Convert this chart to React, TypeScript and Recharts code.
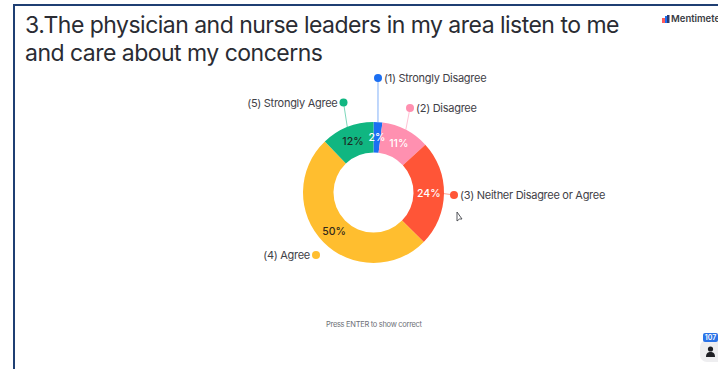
import { PieChart, Pie, Cell } from "recharts";

const categories = [
  "(1) Strongly Disagree",
  "(2) Disagree",
  "(3) Neither Disagree or Agree",
  "(4) Agree",
  "(5) Strongly Agree",
];
const shares = [2, 11, 24, 50, 12];
const colors = ["#1b6ff2", "#ff90b0", "#ff5537", "#ffbe2f", "#10b681"];
const valueColors = ["#ffffff", "#ffffff", "#ffffff", "#33291a", "#1c2a24"];

// callout dot position relative to the ring centre, and which side its text sits on
const calloutOffsets = [
  [4.5, -114.5],
  [36.5, -84.5],
  [80.5, 2.5],
  [-57.5, 62.5],
  [-30, -90],
];
const calloutSides = ["right", "right", "right", "left", "left"];
const hiddenLeader = [false, false, false, true, false];

const data = categories.map((name, i) => ({ name, value: shares[i] }));

const FONT = "Inter, 'Noto Sans', sans-serif";
const RAD = Math.PI / 180;

function SliceLabel(props: any) {
  const { cx, cy, midAngle, innerRadius, outerRadius, index } = props;
  const r = (innerRadius + outerRadius) / 2;
  const tx = cx + r * Math.cos(midAngle * RAD);
  const ty = cy - r * Math.sin(midAngle * RAD);
  const dx = cx + calloutOffsets[index][0];
  const dy = cy + calloutOffsets[index][1];
  const lx = cx + outerRadius * Math.cos(midAngle * RAD);
  const ly = cy - outerRadius * Math.sin(midAngle * RAD);
  const right = calloutSides[index] === "right";
  return (
    <g>
      {!hiddenLeader[index] && (
        <line x1={lx} y1={ly} x2={dx} y2={dy} stroke={colors[index]} strokeOpacity={0.55} strokeWidth={1} />
      )}
      <circle cx={dx} cy={dy} r={4} fill={colors[index]} />
      <text
        x={right ? dx + 6 : dx - 6}
        y={dy}
        textAnchor={right ? "start" : "end"}
        dominantBaseline="central"
        fontFamily={FONT}
        fontSize={11}
        letterSpacing={-0.28}
        fill="#3f4147"
      >
        {categories[index]}
      </text>
      <text
        x={tx}
        y={ty}
        textAnchor="middle"
        dominantBaseline="central"
        fontFamily={FONT}
        fontSize={10.5}
        fontWeight={500}
        fill={valueColors[index]}
      >
        {shares[index]}%
      </text>
    </g>
  );
}

export default function App() {
  return (
    <div style={{ position: "fixed", left: 0, top: 0, width: 718, height: 369, background: "#fff", overflow: "hidden" }}>
      {/* slide frame */}
      <div style={{ position: "absolute", left: 13, top: 4, right: 0, height: 2, background: "#1f3f73" }} />
      <div style={{ position: "absolute", left: 13, top: 4, bottom: 0, width: 2, background: "#1f3f73" }} />

      <div
        style={{
          position: "absolute",
          left: 25,
          top: 11,
          width: 640,
          fontFamily: FONT,
          fontSize: 23,
          lineHeight: "28px",
          letterSpacing: -0.52,
          color: "#2a2c33",
        }}
      >
        3.The physician and nurse leaders in my area listen to me
        <br />
        and care about my concerns
      </div>

      <div style={{ position: "absolute", left: 0, top: 0 }}>
        <PieChart width={718} height={369} margin={{ top: 0, right: 0, bottom: 0, left: 0 }}>
          <Pie
            data={data}
            dataKey="value"
            cx={373.5}
            cy={192.5}
            innerRadius={40}
            outerRadius={70.5}
            startAngle={90}
            endAngle={-270}
            stroke="none"
            label={SliceLabel}
            labelLine={false}
            isAnimationActive={false}
          >
            {data.map((d, i) => (
              <Cell key={d.name} fill={colors[i]} />
            ))}
          </Pie>
        </PieChart>
      </div>

      <div
        style={{
          position: "absolute",
          left: 326,
          top: 320,
          fontFamily: FONT,
          fontSize: 7.5,
          letterSpacing: -0.3,
          color: "#6d6f76",
          whiteSpace: "nowrap",
        }}
      >
        Press ENTER to show correct
      </div>

      {/* brand mark, clipped by the window edge */}
      <svg style={{ position: "absolute", left: 662, top: 15 }} width={8} height={8}>
        <rect x={0} y={3} width={3} height={5} fill="#ff5b5b" />
        <rect x={3} y={1} width={2} height={7} fill="#1b6ff2" />
        <rect x={5} y={0} width={2.5} height={8} fill="#2a3a70" />
      </svg>
      <div
        style={{
          position: "absolute",
          left: 671,
          top: 13,
          fontFamily: FONT,
          fontSize: 9.5,
          fontWeight: 600,
          color: "#3a3c44",
          whiteSpace: "nowrap",
        }}
      >
        Mentimeter
      </div>

      {/* pointer left on the slide */}
      <svg style={{ position: "absolute", left: 455, top: 211 }} width={10} height={14}>
        <path d="M2 1 V10 L4.5 8 L7 8 Z" fill="#fff" stroke="#44464c" strokeWidth={0.9} />
      </svg>

      {/* audience count widget */}
      <div style={{ position: "absolute", left: 700, top: 340, width: 24, height: 22, borderRadius: 7, background: "#eeeef0" }} />
      <div
        style={{
          position: "absolute",
          left: 703,
          top: 333,
          width: 15,
          height: 9,
          borderRadius: 2,
          background: "#2b74e8",
          color: "#fff",
          fontFamily: FONT,
          fontSize: 7,
          fontWeight: 600,
          lineHeight: "9px",
          textAlign: "center",
        }}
      >
        107
      </div>
      <svg style={{ position: "absolute", left: 705, top: 346 }} width={11} height={12}>
        <circle cx={5.5} cy={3} r={2.6} fill="#1e1f24" />
        <path d="M1 11 C1 7 3 6 5.5 6 C8 6 10 7 10 11 Z" fill="#1e1f24" />
      </svg>
    </div>
  );
}
